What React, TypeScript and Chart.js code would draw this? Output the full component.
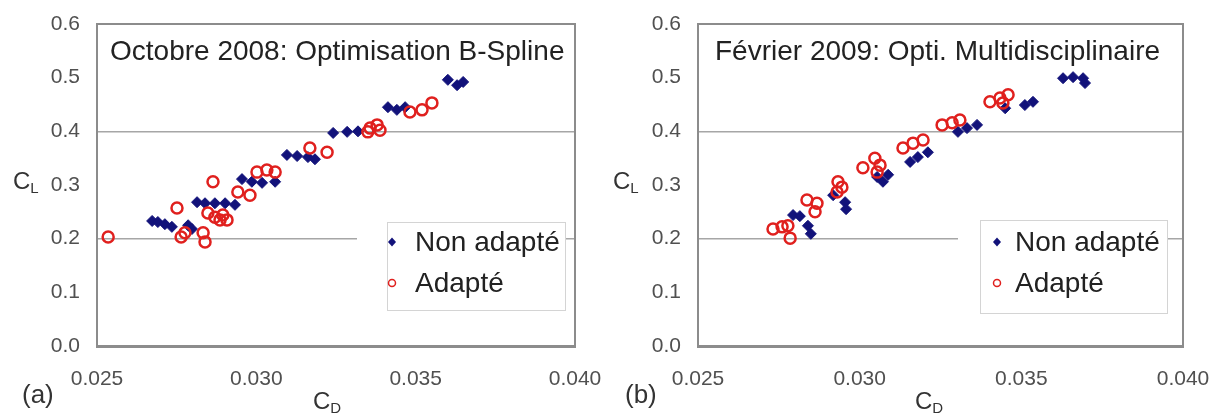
import React, { useEffect, useRef } from "react";
import { Chart, registerables } from "chart.js";

Chart.register(...registerables);

// ---------- data ----------
const seriesNames = ["Non adapté", "Adapté"];
const titleA = "Octobre 2008: Optimisation B-Spline";
const titleB = "Février 2009: Opti. Multidisciplinaire";
const xTickValues = [0.025, 0.03, 0.035, 0.04];
const yTickValues = [0, 0.1, 0.2, 0.3, 0.4, 0.5, 0.6];
const gridValues = [0.2, 0.4];

// (a) Octobre 2008
const cdNonAdapteA = [0.02673, 0.02691, 0.02713, 0.02735, 0.02786, 0.02798, 0.02814, 0.02839, 0.0287, 0.02902, 0.02933, 0.02955, 0.02986, 0.03018, 0.03059, 0.03096, 0.03128, 0.03162, 0.03184, 0.03241, 0.03285, 0.03319, 0.03413, 0.03441, 0.03467, 0.03601, 0.0363, 0.03649];
const clNonAdapteA = [0.233, 0.231, 0.227, 0.222, 0.225, 0.218, 0.268, 0.266, 0.266, 0.266, 0.263, 0.311, 0.306, 0.304, 0.306, 0.356, 0.354, 0.352, 0.348, 0.397, 0.399, 0.4, 0.445, 0.44, 0.445, 0.496, 0.486, 0.492];
const cdAdapteA = [0.02535, 0.02764, 0.02776, 0.02839, 0.02833, 0.02751, 0.02864, 0.02848, 0.0287, 0.02895, 0.02908, 0.02886, 0.02942, 0.0298, 0.03002, 0.03033, 0.03059, 0.03168, 0.03222, 0.0335, 0.03357, 0.03379, 0.03388, 0.03482, 0.0352, 0.03551];
const clAdapteA = [0.203, 0.203, 0.211, 0.194, 0.211, 0.257, 0.306, 0.248, 0.24, 0.244, 0.235, 0.235, 0.287, 0.281, 0.324, 0.328, 0.324, 0.369, 0.361, 0.399, 0.406, 0.412, 0.402, 0.436, 0.44, 0.453];

// (b) Février 2009
const cdNonAdapteB = [0.02794, 0.02815, 0.0284, 0.02849, 0.02918, 0.02955, 0.02958, 0.03054, 0.03072, 0.03088, 0.03156, 0.0318, 0.03211, 0.03304, 0.03332, 0.03363, 0.0345, 0.03511, 0.03536, 0.03629, 0.0366, 0.03691, 0.03697];
const clNonAdapteB = [0.244, 0.242, 0.224, 0.209, 0.281, 0.268, 0.255, 0.315, 0.306, 0.319, 0.343, 0.352, 0.361, 0.399, 0.406, 0.412, 0.443, 0.449, 0.455, 0.499, 0.501, 0.499, 0.49];
const cdAdapteB = [0.02732, 0.0276, 0.02778, 0.02785, 0.02837, 0.02868, 0.02862, 0.02933, 0.02945, 0.0293, 0.0301, 0.03047, 0.03063, 0.03054, 0.03134, 0.03165, 0.03196, 0.03255, 0.03286, 0.0331, 0.03403, 0.03434, 0.03459, 0.03443];
const clAdapteB = [0.218, 0.222, 0.224, 0.201, 0.272, 0.266, 0.25, 0.306, 0.296, 0.287, 0.332, 0.35, 0.337, 0.324, 0.369, 0.378, 0.384, 0.412, 0.416, 0.421, 0.455, 0.462, 0.468, 0.453];

// ---------- styling / layout ----------
const FONT = '"Liberation Sans", Arial, sans-serif';
const BLUE = "#12127a";
const RED = "#e0201e";
const FRAME = "#8c8c8c";

type PanelCfg = {
  title: string;
  letter: string;
  cdN: number[];
  clN: number[];
  cdA: number[];
  clA: number[];
  yAxisWidth: number;
  padRight: number;
  titleX: number;
  legendFillX: number;
  legendX: number;
  legendW: number;
  legendY: number;
  legendH: number;
  markerX: number;
  textX: number;
  clX: number;
  cdX: number;
  letterX: number;
};

const panels: PanelCfg[] = [
  {
    title: titleA, letter: "(a)",
    cdN: cdNonAdapteA, clN: clNonAdapteA, cdA: cdAdapteA, clA: clAdapteA,
    yAxisWidth: 97, padRight: 37, titleX: 110,
    legendFillX: 357, legendX: 387, legendW: 178, legendY: 222, legendH: 88,
    markerX: 392, textX: 415, clX: 13, cdX: 313, letterX: 22,
  },
  {
    title: titleB, letter: "(b)",
    cdN: cdNonAdapteB, clN: clNonAdapteB, cdA: cdAdapteB, clA: clAdapteB,
    yAxisWidth: 86, padRight: 41, titleX: 103,
    legendFillX: 346, legendX: 368, legendW: 187, legendY: 220, legendH: 93,
    markerX: 385, textX: 403, clX: 1, cdX: 303, letterX: 13,
  },
];

function drawSub(ctx: CanvasRenderingContext2D, x: number, y: number, main: string, sub: string) {
  ctx.font = `24px ${FONT}`;
  ctx.fillText(main, x, y);
  const w = ctx.measureText(main).width;
  ctx.font = `15px ${FONT}`;
  ctx.fillText(sub, x + w, y + 4);
}

function Panel({ cfg, left }: { cfg: PanelCfg; left: number }) {
  const ref = useRef<HTMLCanvasElement>(null);
  useEffect(() => {
    const canvas = ref.current;
    if (!canvas) return;
    const decor = {
      id: "decor",
      afterDraw(chart: any) {
        const { ctx, chartArea: a } = chart;
        ctx.save();
        // top & right frame
        ctx.strokeStyle = FRAME;
        ctx.lineWidth = 2;
        ctx.beginPath();
        ctx.moveTo(a.left, a.top);
        ctx.lineTo(a.right, a.top);
        ctx.lineTo(a.right, a.bottom);
        ctx.stroke();
        // title
        ctx.fillStyle = "#222";
        ctx.textBaseline = "alphabetic";
        ctx.textAlign = "left";
        ctx.font = `28px ${FONT}`;
        ctx.fillText(cfg.title, cfg.titleX, 60);
        // legend
        ctx.fillStyle = "#ffffff";
        ctx.fillRect(cfg.legendFillX, cfg.legendY, cfg.legendX + cfg.legendW - cfg.legendFillX, cfg.legendH);
        ctx.strokeStyle = "#d4d4d4";
        ctx.lineWidth = 1;
        ctx.strokeRect(cfg.legendX + 0.5, cfg.legendY + 0.5, cfg.legendW, cfg.legendH);
        const rows = [242, 283];
        // diamond
        ctx.fillStyle = BLUE;
        ctx.beginPath();
        ctx.moveTo(cfg.markerX, rows[0] - 4.5);
        ctx.lineTo(cfg.markerX + 4, rows[0]);
        ctx.lineTo(cfg.markerX, rows[0] + 4.5);
        ctx.lineTo(cfg.markerX - 4, rows[0]);
        ctx.closePath();
        ctx.fill();
        // circle
        ctx.strokeStyle = RED;
        ctx.lineWidth = 1.5;
        ctx.beginPath();
        ctx.arc(cfg.markerX, rows[1], 3.5, 0, Math.PI * 2);
        ctx.stroke();
        ctx.fillStyle = "#222";
        ctx.font = `28px ${FONT}`;
        ctx.fillText(seriesNames[0], cfg.textX, rows[0] + 9);
        ctx.fillText(seriesNames[1], cfg.textX, rows[1] + 9);
        // axis titles
        ctx.fillStyle = "#333";
        drawSub(ctx, cfg.clX, 189, "C", "L");
        drawSub(ctx, cfg.cdX, 409, "C", "D");
        ctx.font = `26px ${FONT}`;
        ctx.fillText(cfg.letter, cfg.letterX, 403);
        ctx.restore();
      },
    };

    const chart = new Chart(canvas, {
      type: "scatter",
      data: {
        datasets: [
          {
            label: seriesNames[0],
            data: cfg.cdN.map((x, i) => ({ x, y: cfg.clN[i] })),
            pointStyle: "rectRot",
            pointRadius: 5.5,
            pointBackgroundColor: BLUE,
            pointBorderColor: BLUE,
            pointBorderWidth: 1,
            order: 1,
          },
          {
            label: seriesNames[1],
            data: cfg.cdA.map((x, i) => ({ x, y: cfg.clA[i] })),
            pointStyle: "circle",
            pointRadius: 5.5,
            pointBackgroundColor: "rgba(255,255,255,0)",
            pointBorderColor: RED,
            pointBorderWidth: 2.5,
            order: 0,
          },
        ],
      },
      options: {
        responsive: false,
        animation: false,
        events: [],
        layout: { padding: { top: 24, right: cfg.padRight, left: 0, bottom: 0 } },
        plugins: { legend: { display: false }, tooltip: { enabled: false }, title: { display: false } },
        scales: {
          x: {
            type: "linear",
            min: 0.025,
            max: 0.04,
            afterBuildTicks: (s: any) => {
              s.ticks = xTickValues.map((v) => ({ value: v }));
            },
            afterFit: (s: any) => {
              s.height = 68;
              s.paddingLeft = 0;
              s.paddingRight = 0;
            },
            grid: { display: false, drawTicks: false },
            border: { display: true, color: FRAME, width: 3 },
            ticks: {
              padding: 21,
              color: "#505050",
              font: { family: FONT, size: 21 },
              maxRotation: 0,
              autoSkip: false,
              callback: (v: any) => Number(v).toFixed(3),
            },
          },
          y: {
            type: "linear",
            min: 0,
            max: 0.6,
            afterBuildTicks: (s: any) => {
              s.ticks = yTickValues.map((v) => ({ value: v }));
            },
            afterFit: (s: any) => {
              s.width = cfg.yAxisWidth;
              s.paddingTop = 0;
              s.paddingBottom = 0;
            },
            grid: {
              drawTicks: false,
              lineWidth: 1.5,
              color: (c: any) =>
                gridValues.some((g) => Math.abs(g - c.tick.value) < 1e-6) ? "#a6a6a6" : "rgba(0,0,0,0)",
            },
            border: { display: true, color: FRAME, width: 2 },
            ticks: {
              padding: 17,
              color: "#505050",
              font: { family: FONT, size: 21 },
              autoSkip: false,
              callback: (v: any) => Number(v).toFixed(1),
            },
          },
        },
      },
      plugins: [decor],
    } as any);
    return () => chart.destroy();
  }, [cfg]);
  return (
    <canvas
      ref={ref}
      width={612}
      height={414}
      style={{ position: "absolute", left, top: 0, width: 612, height: 414 }}
    />
  );
}

export default function App() {
  return (
    <div style={{ position: "fixed", left: 0, top: 0, width: 1224, height: 414, background: "#fff", overflow: "hidden" }}>
      <Panel cfg={panels[0]} left={0} />
      <Panel cfg={panels[1]} left={612} />
    </div>
  );
}
